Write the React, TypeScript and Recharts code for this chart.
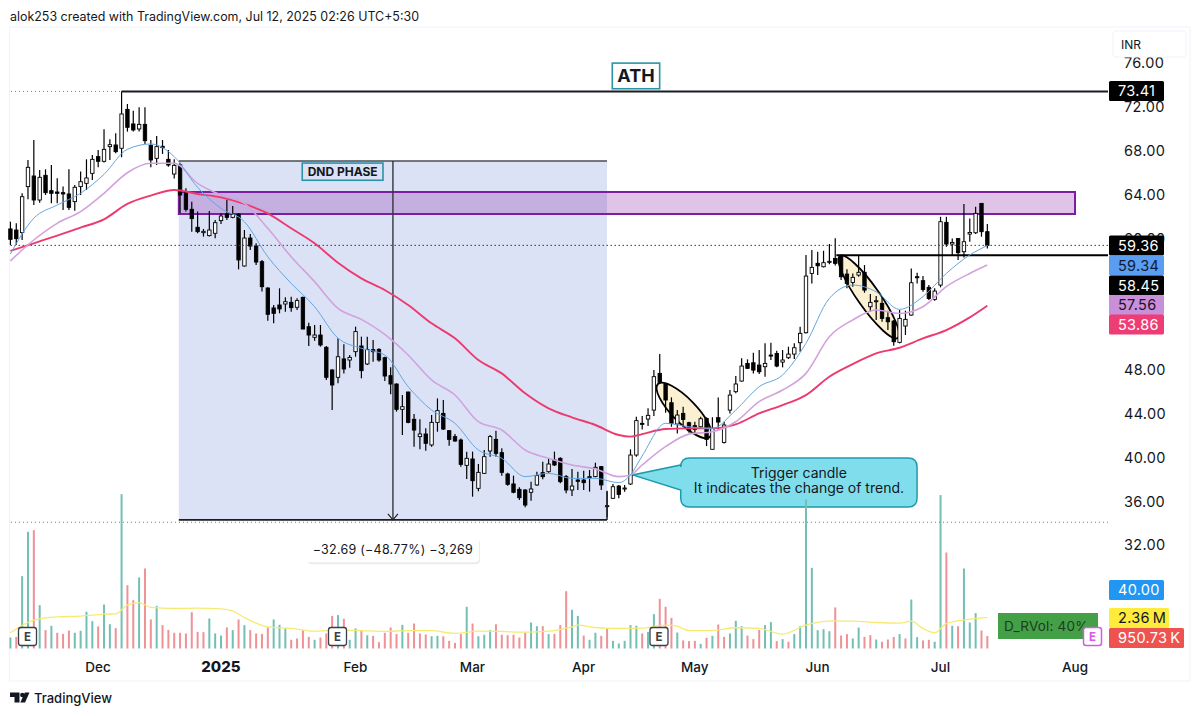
import {
  ComposedChart, Bar, Line, XAxis, YAxis, ReferenceArea, ReferenceLine, ReferenceDot,
} from 'recharts';

const FONT = 'Inter, "Noto Sans", sans-serif';

const opens = [60.86,60.76,60.52,64.72,65.69,63.5,65.75,64.35,64.23,64.17,
  64.05,63.35,64.72,65.02,65.93,67.46,67.03,68.37,68.52,68.22,
  71.77,70.44,69.98,70.4,68.49,67.3,68.4,67.21,65.87,66.72,
  64.26,62.65,61.01,60.52,60.25,60.46,61.62,62.22,61.92,62.22,
  57.48,60.03,59.3,57.87,55.47,53.65,53.92,54.01,54.16,53.71,
  54.62,51.94,50.97,51.18,50.06,47.99,47.32,49.0,48.9,49.66,
  50.18,48.54,49.84,49.87,49.11,47.47,46.71,44.4,45.98,43.49,
  41.91,42.15,41.15,43.21,44.03,42.45,41.91,41.6,39.29,39.87,
  37.19,38.56,40.6,41.66,40.45,38.5,37.59,37.1,37.04,36.83,
  37.5,38.62,38.71,39.78,39.93,38.26,37.04,37.95,37.95,38.2,
  38.26,39.17,35.55,36.28,37.4,37.13,37.59,40.23,43.12,43.51,
  44.33,47.68,46.71,45.0,43.06,44.03,43.18,42.91,42.81,43.57,
  40.75,43.64,41.38,44.33,46.01,46.98,48.59,48.65,48.44,48.29,
  49.35,49.5,48.71,49.11,49.44,50.48,51.39,56.8,57.72,57.41,
  57.81,58.17,58.39,56.74,55.98,56.65,56.9,53.76,54.25,54.07,
  52.76,52.45,50.51,52.0,53.0,56.5,56.14,55.53,54.43,55.74,
  61.46,59.48,59.98,58.78,60.39,60.51,63.19,60.61];

const closes = [59.91,59.97,63.8,66.48,63.5,65.57,64.17,64.11,64.11,64.05,
  62.83,64.66,65.17,65.51,67.21,67.03,68.12,68.55,67.91,71.35,
  70.13,69.89,70.4,68.91,67.15,68.37,68.28,66.69,66.66,63.96,
  62.65,61.8,60.61,60.64,60.76,61.43,62.04,61.92,62.19,58.03,
  60.03,59.3,57.84,55.59,53.07,53.16,53.56,54.22,53.68,54.32,
  51.73,51.18,51.18,50.27,47.32,46.62,49.2,48.08,49.14,51.49,
  47.93,49.87,49.66,48.9,47.44,46.71,44.4,44.64,43.21,42.51,
  42.15,41.3,43.21,44.28,42.6,41.66,41.51,39.38,39.93,37.89,
  38.65,40.08,41.91,40.38,38.65,37.56,36.83,36.34,35.67,37.13,
  38.35,38.26,39.41,39.32,37.8,37.04,37.4,37.83,37.71,38.26,
  39.11,37.5,35.61,37.34,36.64,37.22,40.23,43.37,43.03,43.85,
  47.38,46.86,45.25,43.12,43.88,43.48,42.45,42.57,43.54,41.66,
  42.66,43.24,42.97,45.7,46.71,48.35,48.14,47.98,47.83,48.59,
  49.29,48.35,48.9,49.44,50.02,51.33,56.56,57.35,57.5,57.78,
  57.9,57.72,56.5,55.89,56.44,56.9,55.28,54.16,54.31,52.7,
  52.39,50.57,52.7,52.61,55.95,56.41,55.34,54.52,55.19,61.52,
  59.48,59.63,58.69,59.69,60.54,62.28,60.61,59.36];

const highs = [61.52,61.37,64.11,67.15,68.98,66.24,66.3,66.69,65.48,64.72,
  66.3,64.87,66.09,67.21,67.61,68.06,69.95,69.04,69.58,73.41,
  72.26,71.65,71.96,71.96,68.98,69.34,68.98,68.06,67.21,66.9,
  64.57,63.35,62.44,60.86,62.5,61.68,62.28,63.5,62.95,62.28,
  60.76,60.4,59.55,58.03,55.53,53.92,55.44,54.62,54.68,54.53,
  54.68,52.31,52.09,52.09,50.18,48.05,50.88,50.33,49.36,51.94,
  51.03,51.03,50.73,49.97,49.2,48.23,46.77,45.71,46.01,43.97,
  43.49,42.67,43.88,45.4,45.25,42.51,42.15,41.75,40.54,40.54,
  39.41,40.69,42.06,42.45,40.84,38.62,38.35,37.28,37.1,37.8,
  38.71,39.62,39.93,40.54,40.02,38.41,38.96,38.71,38.8,38.86,
  39.53,39.23,36.98,37.59,37.5,37.5,40.75,43.73,43.79,44.49,
  47.98,49.44,46.77,45.49,44.33,44.64,43.27,43.27,43.73,43.67,
  43.67,45.49,43.27,46.16,47.44,49.05,48.96,49.57,49.81,50.42,
  50.48,49.75,49.81,50.11,50.42,51.94,58.48,58.93,58.78,58.87,
  59.48,60.0,58.45,57.17,56.8,58.39,57.56,54.92,54.74,54.61,
  53.4,52.55,53.46,53.4,57.26,56.87,56.56,55.74,55.44,61.97,
  61.97,59.98,59.98,63.13,61.82,62.89,63.19,61.31];

const lows = [59.4,59.4,59.85,63.56,63.04,63.26,63.96,63.2,63.2,62.59,
  62.59,62.53,63.96,64.41,65.33,66.48,66.91,67.15,67.76,67.4,
  69.74,69.74,69.74,68.61,66.48,66.69,67.7,66.54,65.45,62.28,
  62.44,60.61,60.46,60.16,60.16,60.0,61.31,61.68,61.83,57.17,
  57.42,58.94,57.57,55.14,52.49,52.25,53.16,53.31,53.31,53.46,
  51.7,50.18,50.66,50.12,47.08,44.34,46.77,47.68,48.2,49.2,
  47.23,48.44,48.75,48.75,46.98,45.77,44.19,42.06,43.12,40.99,
  40.75,40.63,40.99,42.36,42.51,41.08,41.45,39.17,38.04,36.43,
  36.92,38.5,40.08,40.08,38.35,37.43,36.74,36.13,35.46,36.07,
  37.43,38.01,38.62,39.23,37.65,36.74,36.49,37.04,37.04,36.89,
  38.2,37.04,34.55,36.22,36.28,36.89,37.5,40.08,42.57,42.87,
  43.79,46.71,44.09,42.81,42.2,42.81,42.27,42.2,42.66,41.05,
  40.75,42.57,41.29,44.03,45.86,46.92,48.08,47.68,47.62,47.38,
  48.9,48.23,48.23,48.99,48.99,49.66,51.33,55.89,56.65,57.35,
  57.63,57.53,56.2,55.44,55.59,56.5,55.04,53.31,52.55,52.39,
  51.63,50.21,50.42,51.18,52.94,55.89,55.13,54.37,54.31,55.53,
  59.24,58.39,58.02,58.26,59.69,60.39,60.15,59.08];

// volume in millions
const volumes = [0.83,0.88,5.48,8.84,8.96,3.28,1.39,1.72,1.19,1.11,
  1.36,1.19,1.34,2.78,2.07,1.67,3.33,1.84,1.54,11.69,
  4.8,3.66,5.38,6.06,2.2,3.23,1.77,1.41,1.19,1.19,
  1.14,2.75,1.26,1.24,2.27,1.14,0.98,1.59,1.39,2.2,
  1.77,1.39,1.14,1.11,1.59,2.2,1.79,1.52,0.66,0.76,
  1.39,0.88,0.66,0.83,1.14,2.47,2.53,2.25,0.66,1.52,
  1.39,1.01,0.96,0.48,1.19,1.59,1.09,1.79,1.19,1.89,
  1.14,1.06,0.93,0.96,0.93,0.58,0.43,1.09,3.16,1.89,
  0.93,1.04,1.39,1.84,1.04,1.01,1.04,0.83,1.21,1.97,
  1.69,1.69,1.09,1.11,1.77,4.34,2.93,2.47,0.98,0.66,
  1.19,0.96,1.54,0.58,0.38,0.58,1.77,1.72,1.14,1.26,
  2.6,3.76,3.16,2.32,1.21,0.61,0.56,0.58,0.35,0.81,
  0.96,1.82,0.88,1.14,2.1,1.69,0.98,0.71,1.41,1.77,
  2.0,0.56,0.71,0.51,1.09,1.69,11.29,6.11,1.39,1.46,
  1.31,3.11,0.98,1.09,0.76,1.59,0.88,1.01,0.68,0.51,
  0.68,0.88,1.09,0.76,3.71,0.86,0.61,0.66,0.51,11.62,
  7.27,1.72,1.69,6.06,1.97,2.68,1.36,0.95];

const volumeDirs = ('GRGGRGRGRR' + 'RGGGGRGGRG' + 'RRGRRGRRRR' + 'RRRRGGGRGR' + 'GRRRRGGGRR' +
  'RRGRRRGRGG' + 'RGRRRRRGRR' + 'RRGGRRRRGR' + 'GGGRRRRRRG' + 'GRGRRRGGRG' +
  'GRRGGGGGRG' + 'GRRRGRRRGR' + 'GRRGGGRRRG' + 'GRGRGGGGGG' + 'GRRRGGRRGR' +
  'RRGRGGRRGG' + 'RGRGGGRR').split('');

const maBars = [0,4,8,12,16,20,24,28,32,36,40,44,48,52,56,60,64,68,72,76,80,84,88,92,96,100,104,106,108,
  112,116,120,124,128,132,136,140,144,148,152,156,160,164,167];
const fastMa = [58.57,61.83,63.04,64.11,65.84,68.12,68.61,67.46,64.66,62.74,61.52,58.33,55.9,53.77,50.9,49.97,49.36,
  46.47,44.34,43.12,40.69,39.93,38.26,38.56,38.1,38.1,37.71,38.41,40.14,
  43.12,42.81,42.66,44.33,46.46,47.53,50.42,54.52,55.74,55.13,53.52,54.68,56.8,58.48,59.34];
const midMa = [57.94,59.85,61.37,62.44,64.11,65.99,66.85,66.85,65.02,63.96,63.2,60.92,58.33,56.05,53.62,52.61,51.24,
  49.36,47.08,45.71,43.27,42.51,40.69,39.93,39.32,38.96,38.26,38.41,39.32,
  40.99,42.14,42.36,43.27,45.1,46.16,47.68,51.03,52.55,53.46,53.15,53.76,55.59,56.8,57.56];
const slowMa = [58.85,59.55,60.25,60.98,61.74,63.14,63.9,64.41,64.05,63.74,63.14,62.28,60.92,59.55,57.78,56.35,55.29,
  53.92,52.25,50.88,48.9,47.68,45.86,44.49,43.67,42.97,42.06,41.91,42.14,
  42.6,42.66,42.66,43.03,44.03,44.79,45.7,47.38,48.53,49.51,50.02,50.87,51.63,52.79,53.86];

const volMaBars = [0,4,8,12,16,18,20,22,24,28,32,36,38,40,44,48,52,56,60,64,68,72,76,80,84,88,92,96,97,100,104,108,
  112,114,116,120,124,128,132,136,140,144,148,152,154,156,158,160,164,167];
const volMa = [1.19,2.15,2.4,2.45,2.6,2.63,3.28,3.48,3.11,3.03,3.06,3.0,2.85,2.35,1.64,1.52,1.31,1.39,1.36,1.29,1.36,1.36,
  1.14,1.31,1.29,1.24,1.31,1.64,1.77,1.59,1.52,1.54,1.77,1.69,1.36,1.36,1.57,1.52,1.09,1.77,2.07,2.07,1.97,1.92,2.07,1.52,1.19,1.89,2.22,2.36];

// 52 and 56 sit fully behind the price badges in the picture, so they are not listed
const priceTicks = [32,36,40,44,48,60,64,68,72,76];
const timeTicks = [15,36,59,79,98,117,138,159,182];
const timeLabels = ['Dec','2025','Feb','Mar','Apr','May','Jun','Jul','Aug'];

const chartData = opens.map((open, i) => {
  const m = maBars.indexOf(i);
  const v = volMaBars.indexOf(i);
  return {
    i, open, close: closes[i], range: [lows[i], highs[i]], high: highs[i], low: lows[i],
    vol: volumes[i], volUp: volumeDirs[i] === 'G',
    fast: m < 0 ? null : fastMa[m],
    mid: m < 0 ? null : midMa[m],
    slow: m < 0 ? null : slowMa[m],
    volAvg: v < 0 ? null : volMa[v],
  };
});

const X_MAX = 187.64;
const X_MIN = -0.06;

function Candle(props: any) {
  const { x, y, width, height, payload } = props;
  const up = payload.close >= payload.open;
  const k = height / (payload.high - payload.low || 1);
  const top = y + (payload.high - Math.max(payload.open, payload.close)) * k;
  const h = Math.max(Math.abs(payload.open - payload.close) * k, 1);
  const cx = x + width / 2;
  return (
    <g>
      <line x1={cx} x2={cx} y1={y} y2={y + height} stroke="#000" strokeWidth={1.2} />
      <rect x={x + 0.3} y={top} width={width - 0.6} height={h} fill={up ? '#fff' : '#000'} stroke="#000" strokeWidth={0.9} />
    </g>
  );
}

function VolumeBar(props: any) {
  const { x, y, width, height, payload } = props;
  return <rect x={x} y={y} width={width} height={height} fill={payload.volUp ? '#72c0b4' : '#ee9296'} />;
}

const tiltedEllipse = (ry: number) => (props: any) => {
  const { x, y, width, height } = props;
  const rx = Math.hypot(width, height) / 2;
  const angle = (Math.atan2(height, width) * 180) / Math.PI;
  const cx = x + width / 2;
  const cy = y + height / 2;
  return (
    <ellipse cx={cx} cy={cy} rx={rx} ry={ry} transform={`rotate(${angle} ${cx} ${cy})`}
      fill="#fbf0d2" stroke="#000" strokeWidth={1.8} />
  );
};

function Callout(props: any) {
  const { x, y, width: w, height: h } = props;
  const r = 9;
  const d = `M${x + r},${y} H${x + w - r} Q${x + w},${y} ${x + w},${y + r} V${y + h - r} Q${x + w},${y + h} ${x + w - r},${y + h}
    H${x + r} Q${x},${y + h} ${x},${y + h - r} V${y + 32} L${x - 48},${y + 17} L${x},${y + 7} V${y + r} Q${x},${y} ${x + r},${y} Z`;
  return (
    <g>
      <path d={d} fill="#80deec" stroke="#1e9bab" strokeWidth={1.5} />
      <text x={x + w / 2} y={y + 20} textAnchor="middle" fontSize={14} fontFamily={FONT} fill="#131722">Trigger candle</text>
      <text x={x + w / 2} y={y + 35} textAnchor="middle" fontSize={14} fontFamily={FONT} fill="#131722">It indicates the change of trend.</text>
    </g>
  );
}

const labelBox = (text: string, fontSize: number, fill: string) => (props: any) => {
  const { x, y, width, height } = props;
  return (
    <g>
      <rect x={x} y={y} width={width} height={height} fill={fill} stroke="#2a93a8" strokeWidth={1.6} />
      <text x={x + width / 2} y={y + height / 2 + fontSize * 0.36} textAnchor="middle" fontSize={fontSize}
        fontWeight={700} fontFamily={FONT} fill="#131722">{text}</text>
    </g>
  );
};

function MeasureLabel(props: any) {
  const { x, y, width, height } = props;
  return (
    <g>
      <rect x={x + 1} y={y + 2} width={width} height={height} rx={4} fill="#e9ebf0" />
      <rect x={x} y={y} width={width} height={height} rx={4} fill="#fff" />
      <text x={x + width / 2} y={y + 17} textAnchor="middle" fontSize={12.5} letterSpacing={0.25} fontFamily={FONT} fill="#131722">
        −32.69 (−48.77%) −3,269
      </text>
    </g>
  );
}

function ArrowHead(props: any) {
  const { cx, cy } = props;
  return <path d={`M${cx - 5},${cy - 6} L${cx},${cy} L${cx + 5},${cy - 6}`} fill="none" stroke="#222" strokeWidth={1.2} />;
}

function TimeTick(props: any) {
  const { x, y, payload } = props;
  const idx = timeTicks.indexOf(payload.value);
  const label = timeLabels[idx];
  const bold = label === '2025';
  return (
    <text x={x} y={y + 15} textAnchor="middle" fontSize={bold ? 15 : 13.5} fontWeight={bold ? 800 : 500} fontFamily={FONT} fill="#131722">
      {label}
    </text>
  );
}

function Badge({ y, w = 55, h = 20, fill, color, children }: any) {
  return (
    <g>
      <rect x={1109} y={y} width={w} height={h} rx={1.5} fill={fill} />
      <text x={1118} y={y + h / 2 + 5.2} fontSize={14.5} letterSpacing={0.3} fontFamily={FONT} fill={color}>{children}</text>
    </g>
  );
}

function EMark({ x }: { x: number }) {
  return (
    <g>
      <rect x={x} y={627.5} width={18} height={18} rx={2.5} fill="#fff" stroke="#3c3f48" strokeWidth={1.3} />
      <text x={x + 9} y={641} textAnchor="middle" fontSize={11.5} fontWeight={700} fontFamily={FONT} fill="#3c3f48">E</text>
    </g>
  );
}

export default function App() {
  const lineAxes = { xAxisId: 'px', yAxisId: 'price' };
  return (
    <div style={{ position: 'absolute', left: 0, top: 0, width: 1200, height: 716, background: '#fff', overflow: 'hidden' }}>
      <svg width={1200} height={716} style={{ position: 'absolute', left: 0, top: 0 }}>
        <rect x={9.5} y={27} width={1180.5} height={654} fill="#fff" stroke="#f0f3fa" />
      </svg>
      <div style={{ position: 'absolute', left: 0, top: 0 }}>
        <ComposedChart width={1200} height={716} data={chartData} margin={{ top: 28, left: 10, right: 0, bottom: 0 }}>
          <XAxis xAxisId="px" dataKey="i" type="number" domain={[X_MIN, X_MAX]} ticks={timeTicks} interval={0}
            axisLine={false} tickLine={false} height={67.5} tick={<TimeTick />} />
          <XAxis xAxisId="vx" dataKey="i" type="number" domain={[X_MIN, X_MAX]} hide />
          <YAxis yAxisId="price" orientation="right" type="number" domain={[22.578, 79.193]} ticks={priceTicks} interval={0}
            width={92} axisLine={false} tickLine={false} tickMargin={10} tickFormatter={(v: number) => v.toFixed(2)}
            tick={{ fill: '#131722', fontSize: 14.5, fontFamily: FONT, letterSpacing: 0.3 }} />
          <YAxis yAxisId="vol" type="number" domain={[0, 47]} hide />

          {/* measured drop */}
          <ReferenceArea {...lineAxes} x1={28.8} x2={102} y1={34.31} y2={67.06} fill="#dbe2f6" fillOpacity={1} />
          <ReferenceLine {...lineAxes} segment={[{ x: 28.8, y: 67.06 }, { x: 102, y: 67.06 }]} stroke="#4a4d55" strokeWidth={1.3} />
          <ReferenceLine {...lineAxes} segment={[{ x: 28.8, y: 34.31 }, { x: 102, y: 34.31 }]} stroke="#1b1d22" strokeWidth={1.8} />
          <ReferenceLine {...lineAxes} segment={[{ x: 65.4, y: 67.06 }, { x: 65.4, y: 34.31 }]} stroke="#33353c" strokeWidth={1.4} />
          <ReferenceLine {...lineAxes} segment={[{ x: 102, y: 36.9 }, { x: 102, y: 34.31 }]} stroke="#1b1d22" strokeWidth={1.4} />
          <ReferenceDot {...lineAxes} x={65.4} y={34.31} shape={<ArrowHead />} />

          {/* supply zone */}
          <ReferenceArea {...lineAxes} x1={28.8} x2={182} y1={62.22} y2={64.23} fill="#8e24aa" fillOpacity={0.27}
            stroke="#7a1fa2" strokeWidth={2} />

          <ReferenceArea {...lineAxes} x1={110.7} x2={119.6} y1={41.88} y2={46.71} shape={tiltedEllipse(12)} />
          <ReferenceArea {...lineAxes} x1={141.8} x2={151.7} y1={50.91} y2={58.39} shape={tiltedEllipse(11)} />

          {/* level lines */}
          <ReferenceLine {...lineAxes} y={73.41} stroke="#787b86" strokeDasharray="1 3" />
          <ReferenceLine {...lineAxes} y={59.36} stroke="#3b3d44" strokeDasharray="1.5 2.5" />
          <ReferenceLine {...lineAxes} y={34.1} stroke="#787b86" strokeDasharray="1 3" />
          <ReferenceLine {...lineAxes} segment={[{ x: 19, y: 73.41 }, { x: X_MAX, y: 73.41 }]} stroke="#1b1d22" strokeWidth={2} />
          <ReferenceLine {...lineAxes} segment={[{ x: 141.2, y: 58.45 }, { x: X_MAX, y: 58.45 }]} stroke="#000" strokeWidth={2} />

          <Bar xAxisId="vx" yAxisId="vol" dataKey="vol" barSize={2} shape={<VolumeBar />} isAnimationActive={false} />
          <Line xAxisId="vx" yAxisId="vol" dataKey="volAvg" connectNulls type="monotone" stroke="#f6ea72" strokeWidth={1.3} dot={false} isAnimationActive={false} />

          <Line {...lineAxes} dataKey="slow" connectNulls type="monotone" stroke="#ec3a6f" strokeWidth={1.9} dot={false} isAnimationActive={false} />
          <Line {...lineAxes} dataKey="mid" connectNulls type="monotone" stroke="#d2a2dd" strokeWidth={1.6} dot={false} isAnimationActive={false} />
          <Line {...lineAxes} dataKey="fast" connectNulls type="monotone" stroke="#62a6e2" strokeWidth={1} dot={false} isAnimationActive={false} />
          <Bar {...lineAxes} dataKey="range" barSize={4} shape={<Candle />} isAnimationActive={false} />

          <ReferenceArea {...lineAxes} x1={102.9} x2={111} y1={73.65} y2={75.99} shape={labelBox('ATH', 18, '#fff')} />
          <ReferenceArea {...lineAxes} x1={49.9} x2={63.7} y1={65.3} y2={66.87} shape={labelBox('DND PHASE', 12, '#dbe2f6')} />
          <ReferenceArea {...lineAxes} x1={50.7} x2={80.1} y1={30.45} y2={32.76} shape={<MeasureLabel />} />
          <ReferenceArea {...lineAxes} x1={114.6} x2={155} y1={35.49} y2={39.96} shape={<Callout />} />
        </ComposedChart>
      </div>

      <svg width={1200} height={716} style={{ position: 'absolute', left: 0, top: 0, pointerEvents: 'none' }}>
        <text x={10} y={21} fontSize={12.45} fontFamily={FONT} fill="#131722">
          alok253 created with TradingView.com, Jul 12, 2025 02:26 UTC+5:30
        </text>
        <rect x={1113} y={31} width={73} height={26} rx={3} fill="#fff" stroke="#f0f3fa" />
        <text x={1121} y={48.5} fontSize={12} fontFamily={FONT} fill="#131722">INR</text>

        <Badge y={81} fill="#000" color="#fff">73.41</Badge>
        <Badge y={235.5} fill="#000" color="#fff">59.36</Badge>
        <Badge y={255.5} fill="#5b9df0" color="#0d1b33">59.34</Badge>
        <Badge y={275.5} fill="#000" color="#fff">58.45</Badge>
        <Badge y={295} fill="#c98fd8" color="#22102a">57.56</Badge>
        <Badge y={314.5} fill="#ee3d74" color="#fff">53.86</Badge>
        <Badge y={580} fill="#2196f3" color="#fff">40.00</Badge>
        <Badge y={608} w={60} fill="#ffeb3b" color="#131722">2.36{'\u2009'}M</Badge>
        <Badge y={628} w={75} fill="#ef5350" color="#fff">950.73{'\u2009'}K</Badge>

        <rect x={998} y={613} width={100} height={26} fill="#43a047" />
        <text x={1004} y={631} fontSize={13.5} letterSpacing={0.2} fontFamily={FONT} fill="#1f3a22">D_RVol: 40%</text>
        <rect x={1083.5} y={627.5} width={18} height={18} rx={2.5} fill="#fff" stroke="#d45be6" strokeWidth={1.5} />
        <text x={1092.5} y={641} textAnchor="middle" fontSize={11.5} fontWeight={700} fontFamily={FONT} fill="#d45be6">E</text>

        <EMark x={18.5} />
        <EMark x={328.5} />
        <EMark x={650} />

        <path d="M10,692.5 H19.5 V702.5 H14.5 V697 H10 Z" fill="#131722" />
        <circle cx={22.3} cy={695} r={2.2} fill="#131722" />
        <path d="M24.8,692.5 H29.5 L25,702.5 H20.3 Z" fill="#131722" />
        <text x={34} y={702.5} fontSize={13} fontWeight={500} fontFamily={FONT} fill="#131722">TradingView</text>
      </svg>
    </div>
  );
}
